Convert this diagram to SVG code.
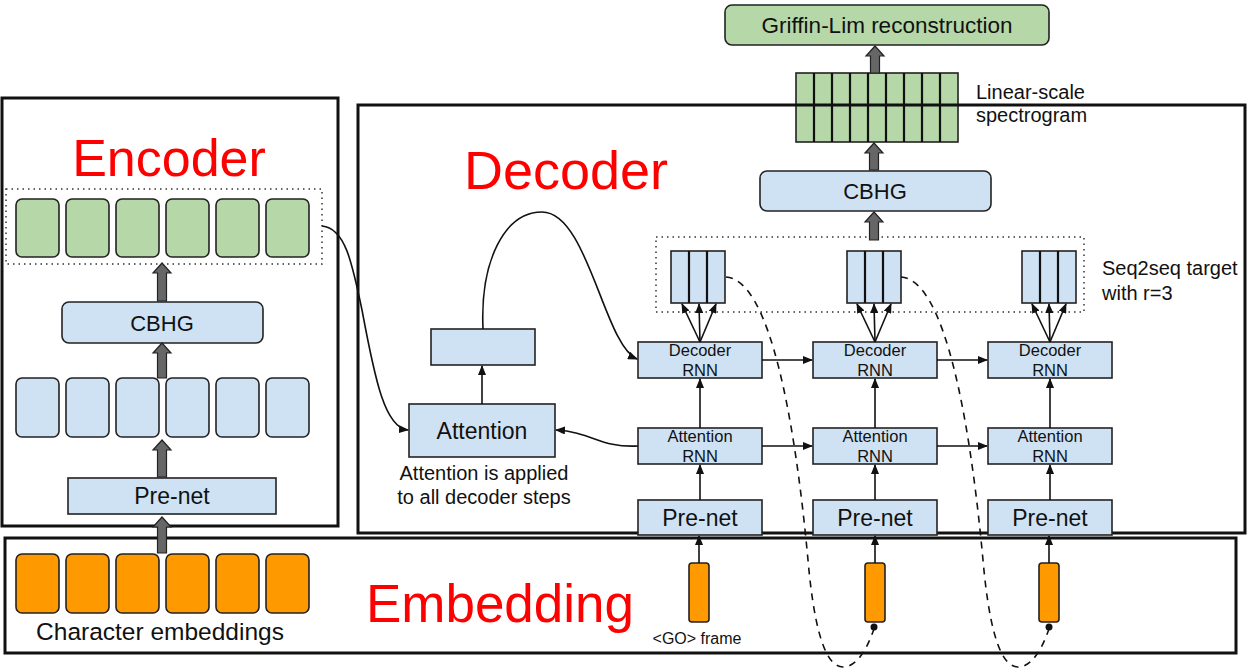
<svg xmlns="http://www.w3.org/2000/svg" width="1253" height="671" viewBox="0 0 1253 671">
<style>
text{font-family:"Liberation Sans",Arial,sans-serif;fill:#111}
.big{fill:#ff0000}
.blue{fill:#cfe2f3;stroke:#222;stroke-width:1.6}
.green{fill:#b6d7a8;stroke:#222;stroke-width:1.6}
.orange{fill:#ff9900;stroke:#222;stroke-width:1.6}
.cont{fill:none;stroke:#111;stroke-width:3}
.dot{fill:none;stroke:#333;stroke-width:1.5;stroke-dasharray:1.5,4}
.thick{fill:#666;stroke:#222;stroke-width:1.2}
.ln{fill:none;stroke:#111;stroke-width:1.6}
.arr{fill:none;stroke:#111;stroke-width:1.6;marker-end:url(#ah)}
.dash{fill:none;stroke:#111;stroke-width:1.6;stroke-dasharray:7,6}
.sep{stroke:#111;stroke-width:2.2}
</style>
<defs>
<marker id="ah" viewBox="0 0 10 8" refX="9" refY="4" markerWidth="10" markerHeight="8" markerUnits="userSpaceOnUse" orient="auto"><path d="M0,0 L10,4 L0,8 z" fill="#111"/></marker>
</defs>
<rect width="1253" height="671" fill="#fff"/>

<g id="griffin-lim">
<rect class="green" x="725" y="5" width="324" height="40" rx="7"/>
<text x="887" y="33" font-size="22.5" text-anchor="middle">Griffin-Lim reconstruction</text>
</g>

<g id="spectrogram">
<rect class="green" x="796" y="73" width="162" height="69" stroke-width="2"/>
<path class="sep" d="M814,73V142M832,73V142M850,73V142M868,73V142M886,73V142M904,73V142M922,73V142M940,73V142"/>
<text x="976" y="99" font-size="20">Linear-scale</text>
<text x="976" y="122" font-size="20">spectrogram</text>
</g>

<g id="containers">
<rect id="encoder-box" class="cont" x="2" y="98" width="336" height="428"/>
<rect id="decoder-box" class="cont" x="358" y="105" width="887" height="428"/>
<rect id="embedding-box" class="cont" x="5" y="538" width="1231" height="115"/>
</g>

<g id="encoder">
<text class="big" x="169" y="176" font-size="52" text-anchor="middle">Encoder</text>
<rect class="dot" x="6" y="189" width="316" height="75"/>
<rect class="green" x="16" y="199" width="43" height="58" rx="6"/>
<rect class="green" x="66" y="199" width="43" height="58" rx="6"/>
<rect class="green" x="116" y="199" width="43" height="58" rx="6"/>
<rect class="green" x="166" y="199" width="43" height="58" rx="6"/>
<rect class="green" x="216" y="199" width="43" height="58" rx="6"/>
<rect class="green" x="266" y="199" width="43" height="58" rx="6"/>
<g id="enc-cbhg">
<rect class="blue" x="62" y="302" width="201" height="41" rx="7"/>
<text x="162" y="331" font-size="22" text-anchor="middle">CBHG</text>
</g>
<rect class="blue" x="16" y="378" width="43" height="59" rx="6"/>
<rect class="blue" x="66" y="378" width="43" height="59" rx="6"/>
<rect class="blue" x="116" y="378" width="43" height="59" rx="6"/>
<rect class="blue" x="166" y="378" width="43" height="59" rx="6"/>
<rect class="blue" x="216" y="378" width="43" height="59" rx="6"/>
<rect class="blue" x="266" y="378" width="43" height="59" rx="6"/>
<g id="enc-prenet">
<rect class="blue" x="68" y="478" width="208" height="36"/>
<text x="172" y="504" font-size="23" text-anchor="middle">Pre-net</text>
</g>
</g>

<g id="embedding">
<text class="big" x="500" y="622" font-size="53" text-anchor="middle">Embedding</text>
<rect class="orange" x="16" y="554" width="43" height="59" rx="6"/>
<rect class="orange" x="66" y="554" width="43" height="59" rx="6"/>
<rect class="orange" x="116" y="554" width="43" height="59" rx="6"/>
<rect class="orange" x="166" y="554" width="43" height="59" rx="6"/>
<rect class="orange" x="216" y="554" width="43" height="59" rx="6"/>
<rect class="orange" x="266" y="554" width="43" height="59" rx="6"/>
<text x="160" y="640" font-size="24.5" text-anchor="middle">Character embeddings</text>
<rect class="orange" x="689" y="563" width="20" height="59" rx="3"/>
<rect class="orange" x="865" y="563" width="20" height="59" rx="3"/>
<rect class="orange" x="1039" y="563" width="20" height="59" rx="3"/>
<text x="697" y="644" font-size="16" text-anchor="middle">&lt;GO&gt; frame</text>
</g>

<g id="decoder">
<text class="big" x="566" y="189" font-size="54" text-anchor="middle">Decoder</text>
<g id="dec-cbhg">
<rect class="blue" x="760" y="171" width="231" height="40" rx="7"/>
<text x="875" y="199" font-size="22" text-anchor="middle">CBHG</text>
</g>
<rect class="dot" x="656" y="237" width="428" height="75"/>
<g id="targets">
<rect class="blue" x="671" y="251" width="54" height="52" stroke-width="2"/>
<path class="sep" d="M689,251V303M707,251V303"/>
<rect class="blue" x="847" y="251" width="54" height="52" stroke-width="2"/>
<path class="sep" d="M865,251V303M883,251V303"/>
<rect class="blue" x="1022" y="251" width="54" height="52" stroke-width="2"/>
<path class="sep" d="M1040,251V303M1058,251V303"/>
</g>
<text x="1102" y="275" font-size="20">Seq2seq target</text>
<text x="1102" y="300" font-size="20">with r=3</text>
<g id="attention">
<rect class="blue" x="409" y="404" width="146" height="53"/>
<text x="482" y="439" font-size="23" text-anchor="middle">Attention</text>
</g>
<text x="484" y="480" font-size="20" text-anchor="middle">Attention is applied</text>
<text x="484" y="504" font-size="20" text-anchor="middle">to all decoder steps</text>
<rect id="context" class="blue" x="431" y="329" width="104" height="36"/>
<g id="decoder-rnn">
<rect class="blue" x="638" y="342" width="124" height="36"/>
<text x="700" y="356" font-size="16.5" text-anchor="middle">Decoder</text>
<text x="700" y="376" font-size="16.5" text-anchor="middle">RNN</text>
<rect class="blue" x="813" y="342" width="124" height="36"/>
<text x="875" y="356" font-size="16.5" text-anchor="middle">Decoder</text>
<text x="875" y="376" font-size="16.5" text-anchor="middle">RNN</text>
<rect class="blue" x="988" y="342" width="124" height="36"/>
<text x="1050" y="356" font-size="16.5" text-anchor="middle">Decoder</text>
<text x="1050" y="376" font-size="16.5" text-anchor="middle">RNN</text>
</g>
<g id="attention-rnn">
<rect class="blue" x="638" y="428" width="124" height="36"/>
<text x="700" y="442" font-size="16.5" text-anchor="middle">Attention</text>
<text x="700" y="462" font-size="16.5" text-anchor="middle">RNN</text>
<rect class="blue" x="813" y="428" width="124" height="36"/>
<text x="875" y="442" font-size="16.5" text-anchor="middle">Attention</text>
<text x="875" y="462" font-size="16.5" text-anchor="middle">RNN</text>
<rect class="blue" x="988" y="428" width="124" height="36"/>
<text x="1050" y="442" font-size="16.5" text-anchor="middle">Attention</text>
<text x="1050" y="462" font-size="16.5" text-anchor="middle">RNN</text>
</g>
<g id="dec-prenet">
<rect class="blue" x="638" y="500" width="124" height="35"/>
<text x="700" y="526" font-size="23" text-anchor="middle">Pre-net</text>
<rect class="blue" x="813" y="500" width="124" height="35"/>
<text x="875" y="526" font-size="23" text-anchor="middle">Pre-net</text>
<rect class="blue" x="988" y="500" width="124" height="35"/>
<text x="1050" y="526" font-size="23" text-anchor="middle">Pre-net</text>
</g>
</g>

<g id="connectors">
<polygon class="thick" points="162,517 171,527 166.5,527 166.5,553 157.5,553 157.5,527 153,527"/>
<polygon class="thick" points="162,440 171,450 166.5,450 166.5,477 157.5,477 157.5,450 153,450"/>
<polygon class="thick" points="162,343 171,353 166.5,353 166.5,378 157.5,378 157.5,353 153,353"/>
<polygon class="thick" points="162,263 171,273 166.5,273 166.5,301 157.5,301 157.5,273 153,273"/>
<polygon class="thick" points="874,212 883,222 878.5,222 878.5,240 869.5,240 869.5,222 865,222"/>
<polygon class="thick" points="874,143 883,153 878.5,153 878.5,170 869.5,170 869.5,153 865,153"/>
<polygon class="thick" points="875,46 884,56 879.5,56 879.5,73 870.5,73 870.5,56 866,56"/>

<path class="arr" d="M322,226 C345,228 352,262 362,310 C375,380 385,428 408,430"/>
<path class="arr" d="M638,446 C600,448 592,432 556,430"/>
<path class="arr" d="M482,404 V366"/>
<path class="arr" d="M483,329 C480,260 505,212 542,212 C588,212 604,345 637,359"/>

<path class="arr" d="M700,500 V465"/>
<path class="arr" d="M875,500 V465"/>
<path class="arr" d="M1050,500 V465"/>
<path class="arr" d="M700,428 V379"/>
<path class="arr" d="M875,428 V379"/>
<path class="arr" d="M1050,428 V379"/>
<path class="arr" d="M762,360 H812"/>
<path class="arr" d="M937,360 H987"/>
<path class="arr" d="M762,446 H812"/>
<path class="arr" d="M937,446 H987"/>
<path class="arr" d="M700,342 L682,304"/>
<path class="arr" d="M700,342 L699,304"/>
<path class="arr" d="M700,342 L716,304"/>
<path class="arr" d="M875,342 L857,304"/>
<path class="arr" d="M875,342 L874,304"/>
<path class="arr" d="M875,342 L891,304"/>
<path class="arr" d="M1050,342 L1032,304"/>
<path class="arr" d="M1050,342 L1049,304"/>
<path class="arr" d="M1050,342 L1066,304"/>
<path class="arr" d="M699,563 V536"/>
<path class="arr" d="M875,563 V536"/>
<path class="arr" d="M1049,563 V536"/>

<path class="dash" d="M726,277 C770,280 795,420 808,560 C815,640 828,667 843,667 C860,667 870,640 874,629"/>
<path class="dash" d="M901,277 C945,280 970,420 983,560 C990,640 1003,667 1018,667 C1035,667 1045,640 1049,629"/>
<circle cx="874" cy="627" r="3.5" fill="#111"/>
<circle cx="1049" cy="627" r="3.5" fill="#111"/>
</g>
</svg>
